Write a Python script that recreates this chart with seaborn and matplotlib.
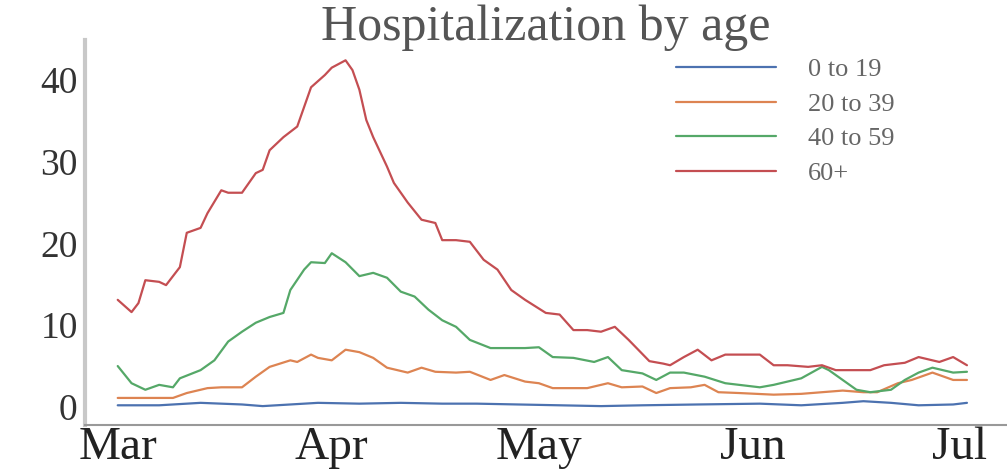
import numpy as np
import pandas as pd
import matplotlib
matplotlib.use("Agg")
import matplotlib.pyplot as plt
import matplotlib.dates as mdates
import seaborn as sns

# values, day = days after 1 March 2020
groups = ["0 to 19", "20 to 39", "40 to 59", "60+"]

days_0_19 = [0, 6, 12, 18, 21, 25, 29, 35, 41, 47, 52, 58, 64, 70, 76, 84, 93, 99, 105, 108, 112, 116, 121, 123]
vals_0_19 = [0.2, 0.2, 0.5, 0.3, 0.1, 0.3, 0.5, 0.4, 0.5, 0.4, 0.4, 0.3, 0.2, 0.1, 0.2, 0.3, 0.4, 0.2, 0.5, 0.7, 0.5, 0.2, 0.3, 0.5]

days_20_39 = [0, 3, 8, 10, 13, 15, 18, 20, 22, 25, 26, 28, 29, 31, 33, 35, 37, 39, 42, 44, 46, 49, 51, 54, 56,
              59, 61, 63, 66, 68, 71, 73, 76, 78, 80, 83, 85, 87, 90, 95, 99, 102, 105, 108, 110, 113, 115, 118, 121, 123]
vals_20_39 = [1.1, 1.1, 1.1, 1.7, 2.3, 2.4, 2.4, 3.7, 4.9, 5.7, 5.5, 6.4, 6.0, 5.7, 7.0, 6.7, 6.0, 4.8, 4.2, 4.8, 4.3, 4.2, 4.3, 3.3, 3.9,
              3.1, 2.9, 2.3, 2.3, 2.3, 2.9, 2.4, 2.5, 1.7, 2.3, 2.4, 2.7, 1.8, 1.7, 1.5, 1.6, 1.8, 2.0, 1.8, 1.8, 2.9, 3.3, 4.2, 3.3, 3.3]

days_40_59 = [0, 2, 4, 6, 8, 9, 12, 14, 16, 18, 20, 22, 24, 25, 27, 28, 30, 31, 33, 35, 37, 39, 41, 43, 45, 47, 49, 51,
              54, 56, 59, 61, 63, 66, 69, 71, 73, 76, 78, 80, 82, 85, 88, 90, 93, 95, 97, 99, 102, 103, 105, 107, 109,
              112, 114, 116, 118, 121, 123]
vals_40_59 = [5.0, 2.9, 2.1, 2.7, 2.4, 3.5, 4.5, 5.7, 8.0, 9.2, 10.3, 11.0, 11.5, 14.3, 16.8, 17.7, 17.6, 18.8, 17.7, 16.0,
              16.4, 15.8, 14.1, 13.5, 11.9, 10.6, 9.8, 8.2, 7.2, 7.2, 7.2, 7.3, 6.1, 6.0, 5.5, 6.1, 4.5, 4.1, 3.3, 4.2,
              4.2, 3.7, 2.9, 2.7, 2.4, 2.7, 3.1, 3.5, 4.9, 4.5, 3.3, 2.1, 1.8, 2.1, 3.3, 4.2, 4.8, 4.2, 4.3]

days_60 = [0, 2, 3, 4, 6, 7, 9, 10, 12, 13, 15, 16, 18, 20, 21, 22, 24, 26, 28, 30, 31, 33, 34, 35, 36, 37, 39, 40,
           42, 44, 46, 47, 49, 51, 53, 55, 57, 59, 62, 64, 66, 68, 70, 72, 74, 77, 79, 80, 82, 84, 86, 88, 90, 93,
           95, 97, 100, 102, 104, 107, 109, 111, 114, 116, 119, 121, 123]
vals_60 = [13.1, 11.6, 12.7, 15.5, 15.3, 14.9, 17.1, 21.3, 21.9, 23.7, 26.5, 26.2, 26.2, 28.6, 29.0, 31.4, 33.0, 34.3,
           39.1, 40.6, 41.5, 42.4, 41.2, 38.8, 35.1, 33.0, 29.4, 27.4, 25.0, 22.9, 22.5, 20.4, 20.4, 20.2, 18.0, 16.8,
           14.3, 13.1, 11.5, 11.3, 9.4, 9.4, 9.2, 9.8, 8.2, 5.6, 5.3, 5.1, 6.1, 7.0, 5.7, 6.4, 6.4, 6.4, 5.1, 5.1,
           4.9, 5.1, 4.5, 4.5, 4.5, 5.1, 5.4, 6.1, 5.5, 6.1, 5.1]

start = pd.Timestamp("2020-03-01")
frames = []
for g, d, v in zip(groups, [days_0_19, days_20_39, days_40_59, days_60],
                   [vals_0_19, vals_20_39, vals_40_59, vals_60]):
    frames.append(pd.DataFrame({"date": start + pd.to_timedelta(d, unit="D"), "value": v, "group": g}))
df = pd.concat(frames, ignore_index=True)

sns.set_style("white")
plt.rcParams["font.family"] = ["Liberation Serif", "DejaVu Serif"]

fig = plt.figure(figsize=(10.07, 4.69), dpi=100)
ax = fig.add_axes([0.084, 0.094, 0.916, 0.821])

sns.lineplot(data=df, x="date", y="value", hue="group", hue_order=groups,
             palette="deep", linewidth=1.6, ax=ax)

ax.set_xlim(start - pd.Timedelta(days=4.8), start + pd.Timedelta(days=128.8))
ax.set_ylim(-2.2, 44.9)
ax.set_yticks([0, 10, 20, 30, 40])
ax.xaxis.set_major_locator(mdates.MonthLocator())
ax.xaxis.set_major_formatter(mdates.DateFormatter("%b"))
ax.set_xlabel("")
ax.set_ylabel("")

ax.tick_params(axis="x", length=0, pad=1, labelsize=34, labelcolor="#222222")
ax.tick_params(axis="y", length=0, pad=5, labelsize=27, labelcolor="#333333")

sns.despine(ax=ax, top=True, right=True)
ax.spines["left"].set_color("#c8c8c8")
ax.spines["left"].set_linewidth(3)
ax.spines["bottom"].set_color("#999999")
ax.spines["bottom"].set_linewidth(1.5)

ax.set_title("Hospitalization by age", fontsize=36, color="#555555", pad=0)

leg = ax.legend(loc="upper left", bbox_to_anchor=(0.615, 1.015), frameon=False,
                fontsize=19, handlelength=3.8, handletextpad=1.2, labelspacing=0.42)
for t in leg.get_texts():
    t.set_color("#666666")

fig.savefig("out.png", dpi=100)
